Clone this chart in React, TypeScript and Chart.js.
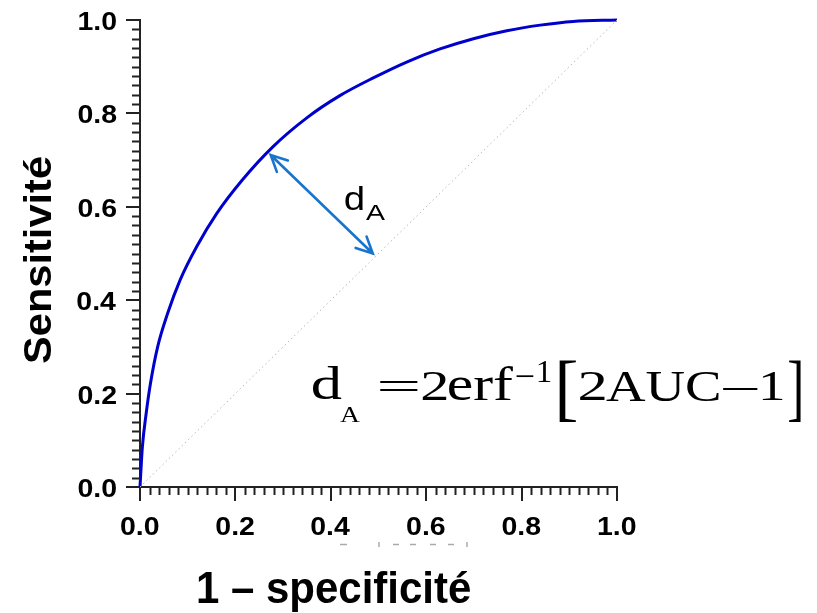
import React, { useEffect, useRef } from "react";
import { Chart, registerables } from "chart.js";

Chart.register(...registerables);

// ROC curve (1 - specificity, sensitivity)
const FPR = [0, 0.005, 0.013, 0.022, 0.037, 0.058, 0.084, 0.119, 0.161, 0.214, 0.279, 0.349, 0.419, 0.489, 0.559, 0.629, 0.699, 0.769, 0.839, 0.908, 1.0];
const TPR = [0, 0.086, 0.158, 0.222, 0.3, 0.372, 0.443, 0.515, 0.586, 0.657, 0.729, 0.79, 0.838, 0.876, 0.91, 0.938, 0.96, 0.977, 0.989, 0.997, 1.0];
// chance diagonal
const CHANCE_X = [0, 1];
const CHANCE_Y = [0, 1];
// axes
const MAJOR_TICKS = [0, 0.2, 0.4, 0.6, 0.8, 1.0];
const TICK_LABELS = ["0.0", "0.2", "0.4", "0.6", "0.8", "1.0"];
const MINOR_STEP = 0.02;
const X_TITLE = "1 \u2013 specificit\u00e9";
const Y_TITLE = "Sensitivit\u00e9";
// d_A arrow (from curve to diagonal), in data units
const ARROW_FROM = [0.274, 0.711];
const ARROW_TO = [0.488, 0.5];

const SANS = "'Liberation Sans', Arial, sans-serif";
const SERIF = "'Liberation Serif', 'Times New Roman', serif";

function fitText(ctx: CanvasRenderingContext2D, text: string, font: string, x0: number, y0: number, x1: number, y1: number, color = "#000") {
  ctx.save();
  ctx.font = font;
  ctx.textAlign = "left";
  ctx.textBaseline = "alphabetic";
  const m = ctx.measureText(text);
  const w = m.actualBoundingBoxLeft + m.actualBoundingBoxRight;
  const h = m.actualBoundingBoxAscent + m.actualBoundingBoxDescent;
  ctx.translate(x0, y0);
  ctx.scale((x1 - x0) / w, (y1 - y0) / h);
  ctx.fillStyle = color;
  ctx.fillText(text, m.actualBoundingBoxLeft, m.actualBoundingBoxAscent);
  ctx.restore();
}

function fitTextRotated(ctx: CanvasRenderingContext2D, text: string, font: string, x0: number, y0: number, x1: number, y1: number, color = "#000") {
  ctx.save();
  ctx.font = font;
  ctx.textAlign = "left";
  ctx.textBaseline = "alphabetic";
  const m = ctx.measureText(text);
  const w = m.actualBoundingBoxLeft + m.actualBoundingBoxRight;
  const h = m.actualBoundingBoxAscent + m.actualBoundingBoxDescent;
  ctx.translate(x0, y1);
  ctx.rotate(-Math.PI / 2);
  ctx.scale((y1 - y0) / w, (x1 - x0) / h);
  ctx.fillStyle = color;
  ctx.fillText(text, m.actualBoundingBoxLeft, m.actualBoundingBoxAscent);
  ctx.restore();
}

// draw text with a scale, anchored by its ink box
function drawScaled(ctx: CanvasRenderingContext2D, text: string, font: string, sx: number, sy: number, ax: number, cy: number, align: "center" | "right") {
  ctx.save();
  ctx.font = font;
  ctx.textAlign = "left";
  ctx.textBaseline = "alphabetic";
  const m = ctx.measureText(text);
  const w = (m.actualBoundingBoxLeft + m.actualBoundingBoxRight) * sx;
  const h = (m.actualBoundingBoxAscent + m.actualBoundingBoxDescent) * sy;
  const x0 = align === "center" ? ax - w / 2 : ax - w;
  const y0 = cy - h / 2;
  ctx.translate(x0, y0);
  ctx.scale(sx, sy);
  ctx.fillStyle = "#000";
  ctx.fillText(text, m.actualBoundingBoxLeft, m.actualBoundingBoxAscent);
  ctx.restore();
}

const decorPlugin = {
  id: "decor",
  afterDraw(chart: any) {
    const ctx: CanvasRenderingContext2D = chart.ctx;
    const xs = chart.scales.x;
    const ys = chart.scales.y;
    const area = chart.chartArea;

    // minor ticks
    ctx.save();
    ctx.strokeStyle = "#222";
    ctx.lineWidth = 2;
    ctx.beginPath();
    const n = Math.round(1 / MINOR_STEP);
    for (let i = 0; i <= n; i++) {
      if (i % 10 === 0) continue;
      const v = i * MINOR_STEP;
      const px = Math.round(xs.getPixelForValue(v)) + 0.5;
      ctx.moveTo(px, area.bottom);
      ctx.lineTo(px, area.bottom + 8);
      const py = Math.round(ys.getPixelForValue(v)) + 0.5;
      ctx.moveTo(area.left, py);
      ctx.lineTo(area.left - 8, py);
    }
    ctx.stroke();
    ctx.restore();

    // tick labels
    const tickFont = `bold 26px ${SANS}`;
    ctx.save();
    ctx.font = tickFont;
    const m0 = ctx.measureText("0.0");
    ctx.restore();
    const sx = 38 / (m0.actualBoundingBoxLeft + m0.actualBoundingBoxRight);
    const sy = 18.3 / (m0.actualBoundingBoxAscent + m0.actualBoundingBoxDescent);
    MAJOR_TICKS.forEach((v, i) => {
      drawScaled(ctx, TICK_LABELS[i], tickFont, sx, sy, xs.getPixelForValue(v), area.bottom + 39, "center");
      drawScaled(ctx, TICK_LABELS[i], tickFont, sx, sy, area.left - 23.5, ys.getPixelForValue(v) + 0.8, "right");
    });

    // axis titles
    fitText(ctx, X_TITLE, `bold 40px ${SANS}`, 198, 569, 470, 612);
    fitTextRotated(ctx, Y_TITLE, `bold 34px ${SANS}`, 23, 157, 51, 364);

    // arrow d_A
    const ax0 = xs.getPixelForValue(ARROW_FROM[0]);
    const ay0 = ys.getPixelForValue(ARROW_FROM[1]);
    const ax1 = xs.getPixelForValue(ARROW_TO[0]);
    const ay1 = ys.getPixelForValue(ARROW_TO[1]);
    ctx.save();
    ctx.strokeStyle = "#1874CD";
    ctx.lineWidth = 2.6;
    ctx.lineCap = "round";
    ctx.beginPath();
    ctx.moveTo(ax0, ay0);
    ctx.lineTo(ax1, ay1);
    const ang = Math.atan2(ay1 - ay0, ax1 - ax0);
    const hl = 18;
    const ha = (26 * Math.PI) / 180;
    // head at end
    ctx.moveTo(ax1 - hl * Math.cos(ang - ha), ay1 - hl * Math.sin(ang - ha));
    ctx.lineTo(ax1, ay1);
    ctx.lineTo(ax1 - hl * Math.cos(ang + ha), ay1 - hl * Math.sin(ang + ha));
    // head at start
    ctx.moveTo(ax0 + hl * Math.cos(ang - ha), ay0 + hl * Math.sin(ang - ha));
    ctx.lineTo(ax0, ay0);
    ctx.lineTo(ax0 + hl * Math.cos(ang + ha), ay0 + hl * Math.sin(ang + ha));
    ctx.stroke();
    ctx.restore();

    // d_A label
    fitText(ctx, "d", `32px ${SANS}`, 345, 186.7, 363, 210);
    fitText(ctx, "A", `21px ${SANS}`, 366, 205, 385, 220);

    // formula d_A = 2 erf^-1 [2 AUC - 1]
    fitText(ctx, "d", `50px ${SERIF}`, 312, 365, 342, 400);
    fitText(ctx, "A", `22px ${SERIF}`, 340, 406.7, 360, 421.7);
    fitText(ctx, "=", `42px ${SERIF}`, 380, 381.7, 418, 391.7);
    fitText(ctx, "2", `42px ${SERIF}`, 421.7, 371.7, 446.7, 400);
    fitText(ctx, "erf", `48px ${SERIF}`, 448, 365, 513, 400);
    fitText(ctx, "\u2212", `28px ${SERIF}`, 516, 375, 534, 377.5);
    fitText(ctx, "1", `28px ${SERIF}`, 538, 362, 551, 381.7);
    fitText(ctx, "[", `60px ${SERIF}`, 559, 361, 576, 422);
    fitText(ctx, "2", `42px ${SERIF}`, 579, 371.7, 605, 400);
    fitText(ctx, "AUC", `42px ${SERIF}`, 606, 371, 719, 400.5);
    fitText(ctx, "\u2212", `42px ${SERIF}`, 723, 388, 758, 391);
    fitText(ctx, "1", `42px ${SERIF}`, 762, 371.7, 783, 400);
    fitText(ctx, "]", `60px ${SERIF}`, 789, 361, 801, 422);

    // faint residual marks below the x tick labels
    ctx.save();
    ctx.strokeStyle = "#aaa";
    ctx.lineWidth = 1.5;
    ctx.beginPath();
    [[340, 347], [393, 399], [410, 416], [430, 436], [448, 454]].forEach(([a, b]) => {
      ctx.moveTo(a, 544.5);
      ctx.lineTo(b, 544.5);
    });
    ctx.moveTo(379, 542);
    ctx.lineTo(379, 547);
    ctx.moveTo(467, 542);
    ctx.lineTo(467, 547);
    ctx.stroke();
    ctx.restore();
  },
};

export default function App() {
  const ref = useRef<HTMLCanvasElement | null>(null);

  useEffect(() => {
    document.body.style.margin = "0";
    const canvas = ref.current;
    if (!canvas) return;
    const axisCommon = (isX: boolean) => ({
      type: "linear" as const,
      min: 0,
      max: 1,
      afterBuildTicks: (s: any) => {
        s.ticks = MAJOR_TICKS.map((v) => ({ value: v }));
      },
      afterFit: (s: any) => {
        if (isX) s.height = 20;
        else s.width = 20;
      },
      ticks: { display: false },
      grid: {
        drawOnChartArea: false,
        drawTicks: true,
        tickLength: 14,
        color: "#222",
        lineWidth: 2,
      },
      border: { display: true, color: "#222", width: 2 },
      title: { display: false },
    });

    const chart = new Chart(canvas, {
      type: "scatter",
      data: {
        datasets: [
          {
            label: "chance",
            data: CHANCE_X.map((x, i) => ({ x, y: CHANCE_Y[i] })),
            showLine: true,
            borderColor: "#b5b5b5",
            borderWidth: 1,
            borderDash: [1.5, 3],
            pointRadius: 0,
            clip: false,
          },
          {
            label: "ROC",
            data: FPR.map((x, i) => ({ x, y: TPR[i] })),
            showLine: true,
            borderColor: "#0000CD",
            borderWidth: 3,
            pointRadius: 0,
            cubicInterpolationMode: "monotone",
            clip: false,
          },
        ],
      },
      options: {
        animation: false,
        responsive: false,
        maintainAspectRatio: false,
        layout: { padding: { left: 120, top: 20, right: 200, bottom: 106 } },
        plugins: {
          legend: { display: false },
          tooltip: { enabled: false },
          title: { display: false },
        },
        scales: {
          x: axisCommon(true),
          y: axisCommon(false),
        },
      },
      plugins: [decorPlugin],
    } as any);
    return () => chart.destroy();
  }, []);

  return (
    <div style={{ position: "fixed", left: 0, top: 0, width: 817, height: 613, background: "#fff" }}>
      <canvas ref={ref} width={817} height={613} style={{ width: 817, height: 613, display: "block" }} />
    </div>
  );
}
